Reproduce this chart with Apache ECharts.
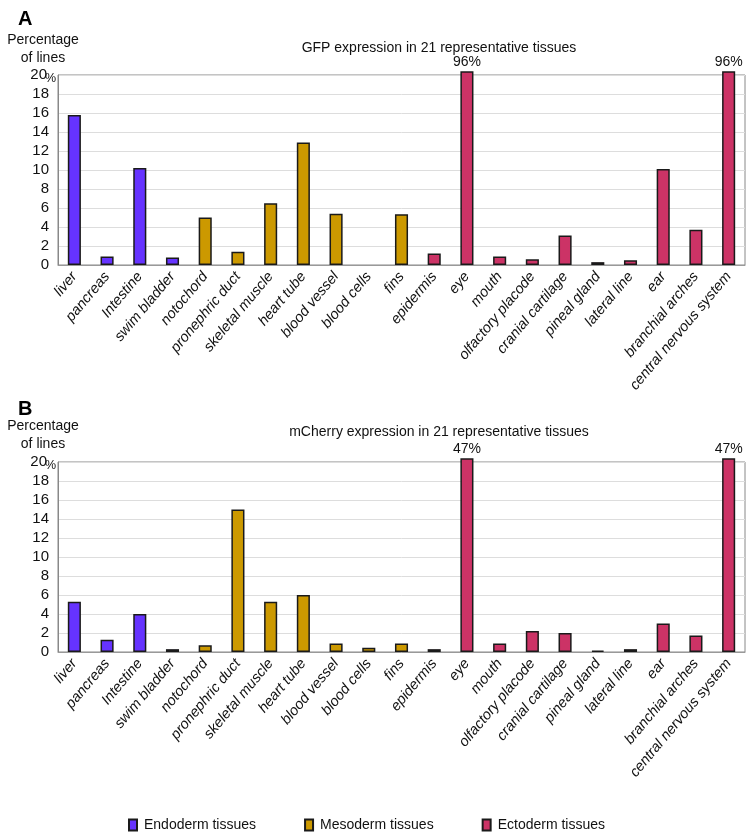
<!DOCTYPE html>
<html>
<head>
<meta charset="utf-8">
<script src="https://cdn.jsdelivr.net/npm/echarts@6/dist/echarts.min.js"></script>
<style>
  html, body { margin: 0; padding: 0; background: #fff; }
  #chart { width: 749px; height: 832px; }
</style>
</head>
<body>
<div id="chart"></div>
<script>
const tissues = ['liver', 'pancreas', 'Intestine', 'swim bladder', 'notochord', 'pronephric duct',
  'skeletal muscle', 'heart tube', 'blood vessel', 'blood cells', 'fins', 'epidermis', 'eye',
  'mouth', 'olfactory placode', 'cranial cartilage', 'pineal gland', 'lateral line', 'ear',
  'branchial arches', 'central nervous system'];
const germLayer = ['Endoderm', 'Endoderm', 'Endoderm', 'Endoderm', 'Mesoderm', 'Mesoderm',
  'Mesoderm', 'Mesoderm', 'Mesoderm', 'Mesoderm', 'Mesoderm', 'Ectoderm', 'Ectoderm',
  'Ectoderm', 'Ectoderm', 'Ectoderm', 'Ectoderm', 'Ectoderm', 'Ectoderm', 'Ectoderm', 'Ectoderm'];
// percentage of lines
const gfpValues = [15.8, 0.9, 10.2, 0.8, 5.0, 1.4, 6.5, 12.9, 5.4, 0, 5.35, 1.2, 96,
  0.9, 0.6, 3.1, 0.3, 0.5, 10.1, 3.7, 96];
const mcherryValues = [5.3, 1.3, 4.0, 0.3, 0.7, 15.0, 5.3, 6.0, 0.9, 0.45, 0.9, 0.3, 47,
  0.9, 2.2, 2.0, 0.15, 0.3, 3.0, 1.75, 47];
const yTicks = [0, 2, 4, 6, 8, 10, 12, 14, 16, 18, 20];

const layers = ['Endoderm', 'Mesoderm', 'Ectoderm'];
const layerColors = { Endoderm: '#6633ff', Mesoderm: '#cc9900', Ectoderm: '#cc3366' };
const yMax = yTicks[yTicks.length - 1];
const cap = yMax + 0.4;

function makeSeries(values, idx) {
  return layers.map(function (layer) {
    return {
      name: layer + ' tissues',
      type: 'bar',
      xAxisIndex: idx,
      yAxisIndex: idx,
      barWidth: '40%',
      barGap: '-100%',
      clip: false,
      itemStyle: { color: layerColors[layer], borderColor: '#1a1a1a', borderWidth: 1.5 },
      label: {
        show: false, position: 'top', distance: 2,
        fontFamily: 'Liberation Sans', fontSize: 14, color: '#111'
      },
      data: values.map(function (v, i) {
        if (germLayer[i] !== layer) return '-';
        if (v > yMax) {
          return { value: cap, label: { show: true, formatter: v + '%' } };
        }
        if (v === 0) return { value: 0, itemStyle: { borderWidth: 0 } };
        return v;
      })
    };
  });
}

const grids = [
  { left: 58, right: 4, top: 75, height: 190, show: true, borderColor: '#888', borderWidth: 1 },
  { left: 58, right: 4, top: 462, height: 190, show: true, borderColor: '#888', borderWidth: 1 }
];

function xAxisFor(idx) {
  return {
    type: 'category',
    gridIndex: idx,
    data: tissues,
    axisLine: { lineStyle: { color: '#999' } },
    axisTick: { length: 5, lineStyle: { color: '#999' } },
    axisLabel: {
      interval: 0, rotate: 50, margin: 9,
      fontFamily: 'Liberation Sans', fontStyle: 'italic', fontSize: 14.5, color: '#111'
    }
  };
}

function yAxisFor(idx) {
  return {
    type: 'value',
    gridIndex: idx,
    min: 0, max: yMax, interval: 2,
    name: '%',
    nameLocation: 'end',
    nameGap: -10,
    nameMoveOverlap: false,
    nameTextStyle: {
      fontFamily: 'Liberation Sans', fontSize: 12.5, color: '#111',
      align: 'right', padding: [0, 2, 0, 0]
    },
    axisLine: { show: true, lineStyle: { color: '#888' } },
    axisTick: { show: false },
    splitLine: { lineStyle: { color: '#dddddd' } },
    axisLabel: {
      margin: 9, fontFamily: 'Liberation Sans', fontSize: 15, color: '#111',
      formatter: function (v) { return v === yMax ? '{t|' + v + '}' : v; },
      rich: { t: { fontFamily: 'Liberation Sans', fontSize: 15, color: '#111', padding: [0, 2, 0, 0] } }
    }
  };
}

const textStyle = { fontFamily: 'Liberation Sans', fontSize: 14, fontWeight: 'normal', color: '#111' };

const option = {
  backgroundColor: '#fff',
  animation: false,
  title: [
    { text: 'A', left: 13, top: 4, textStyle: { fontFamily: 'Liberation Sans', fontSize: 20, fontWeight: 'bold', color: '#000' } },
    { text: 'Percentage\nof lines', left: 38, top: 26, textAlign: 'center', textStyle: Object.assign({ lineHeight: 18, align: 'center' }, textStyle) },
    { text: 'GFP expression in 21 representative tissues', left: 434, top: 36, textAlign: 'center', textStyle: textStyle },
    { text: 'B', left: 13, top: 394, textStyle: { fontFamily: 'Liberation Sans', fontSize: 20, fontWeight: 'bold', color: '#000' } },
    { text: 'Percentage\nof lines', left: 38, top: 412, textAlign: 'center', textStyle: Object.assign({ lineHeight: 18, align: 'center' }, textStyle) },
    { text: 'mCherry expression in 21 representative tissues', left: 434, top: 420, textAlign: 'center', textStyle: textStyle }
  ],
  legend: {
    left: 123, top: 813,
    icon: 'rect',
    itemWidth: 8, itemHeight: 11, itemGap: 48,
    data: layers.map(function (l) { return l + ' tissues'; }),
    textStyle: { fontFamily: 'Liberation Sans', fontSize: 14, color: '#111', padding: [0, 0, 0, 2] }
  },
  grid: grids,
  xAxis: [xAxisFor(0), xAxisFor(1)],
  yAxis: [yAxisFor(0), yAxisFor(1)],
  series: makeSeries(gfpValues, 0).concat(makeSeries(mcherryValues, 1))
};

const myChart = echarts.init(document.getElementById('chart'), null, { renderer: 'canvas' });
option && myChart.setOption(option);
</script>
</body>
</html>
